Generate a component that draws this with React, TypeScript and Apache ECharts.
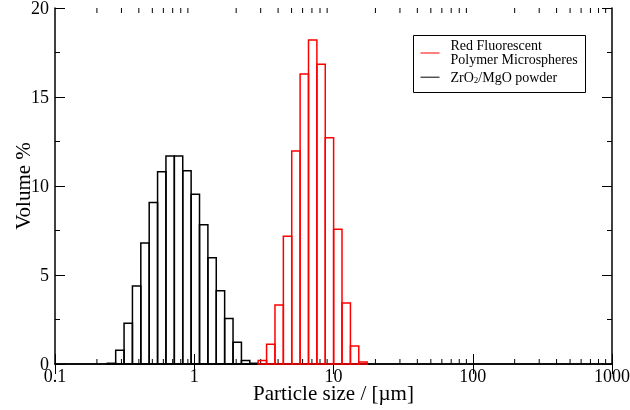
import React, { useEffect, useRef } from "react";
import * as echarts from "echarts";

// Bin edges of the particle-size histogram (µm)
const binEdges = [
  0.2375, 0.2728, 0.3133, 0.3598, 0.4133, 0.4747, 0.5452, 0.6262, 0.7193, 0.8267,
  0.9497, 1.091, 1.253, 1.439, 1.653, 1.899, 2.182, 2.506, 2.879, 3.307, 3.799,
  4.364, 5.012, 5.757, 6.614, 7.598, 8.726, 10.02, 11.51, 13.23, 15.19, 17.45,
];

// ZrO2/MgO powder: volume % per bin, starting at binEdges[0]
const powderFirstBin = 0;
const powderVolume = [
  0.04, 0.77, 2.29, 4.38, 6.8, 9.08, 10.8, 11.69, 11.69, 10.86, 9.53, 7.83, 5.97,
  4.12, 2.55, 1.22, 0.19, 0.04,
];

// Red fluorescent polymer microspheres: volume % per bin, starting at binEdges[18]
const sphereFirstBin = 18;
const sphereVolume = [
  0.2, 1.11, 3.31, 7.17, 11.97, 16.29, 18.2, 16.84, 12.71, 7.57, 3.43, 1.01, 0.11,
];

// Log-axis minor tick values
const minorTickValues = [
  0.2, 0.3, 0.4, 0.5, 0.6, 0.7, 0.8, 0.9,
  2, 3, 4, 5, 6, 7, 8, 9,
  20, 30, 40, 50, 60, 70, 80, 90,
  200, 300, 400, 500, 600, 700, 800, 900,
];

const xTitle = "Particle size / [µm]";
const yTitle = "Volume %";
const sphereName = ["Red Fluorescent", "Polymer Microspheres"];

const FONT = '"Liberation Serif", "Times New Roman", serif';

function histData(first: number, vals: number[]) {
  return vals.map((v, i) => [binEdges[first + i], binEdges[first + i + 1], v]);
}

function histSeries(name: string, color: string, data: number[][]) {
  return {
    type: "custom",
    name,
    xAxisIndex: 0,
    yAxisIndex: 0,
    silent: true,
    encode: { x: [0, 1], y: 2 },
    data,
    renderItem: (params: any, api: any) => {
      const p0 = api.coord([api.value(0), 0]);
      const p1 = api.coord([api.value(1), api.value(2)]);
      return {
        type: "rect",
        shape: { x: p0[0], y: p1[1], width: p1[0] - p0[0], height: p0[1] - p1[1] },
        style: { fill: "none", stroke: color, lineWidth: 1.5 },
      };
    },
  };
}

export default function App() {
  const ref = useRef<HTMLDivElement>(null);
  useEffect(() => {
    if (!ref.current) return;
    const chart = echarts.init(ref.current, null, { renderer: "svg" });
    const fmt = (v: number) => String(parseFloat(Number(v).toPrecision(6)));
    const axisLine = { show: true, lineStyle: { color: "#000", width: 1.5 } };
    const tick = { show: true, inside: true, length: 10, lineStyle: { color: "#000", width: 1 } };
    const minor = { show: true, splitNumber: 2, length: 5, lineStyle: { color: "#000", width: 1 } };
    const label = { fontSize: 18, fontFamily: FONT, color: "#000" };
    const nameStyle = { fontSize: 21, fontFamily: FONT, color: "#000" };
    chart.setOption({
      animation: false,
      grid: { left: 55, right: 18, top: 8, bottom: 46, containLabel: false, outerBoundsMode: "none" },
      xAxis: [
        {
          type: "log", logBase: 10, min: 0.1, max: 1000, position: "bottom",
          axisLine, axisTick: tick, splitLine: { show: false },
          axisLabel: { ...label, margin: 3, formatter: fmt },
          name: xTitle, nameLocation: "middle", nameGap: 18, nameMoveOverlap: false, nameTextStyle: nameStyle,
        },
        {
          type: "log", logBase: 10, min: 0.1, max: 1000, position: "top",
          axisLine, axisTick: tick, splitLine: { show: false },
          axisLabel: { show: false },
        },
      ],
      yAxis: [
        {
          type: "value", min: 0, max: 20, interval: 5, position: "left",
          axisLine, axisTick: tick, minorTick: minor, splitLine: { show: false },
          axisLabel: { ...label, margin: 6 },
          name: yTitle, nameLocation: "middle", nameGap: 22, nameRotate: 90, nameMoveOverlap: false, nameTextStyle: nameStyle,
        },
        {
          type: "value", min: 0, max: 20, interval: 5, position: "right",
          axisLine, axisTick: tick, minorTick: minor, splitLine: { show: false },
          axisLabel: { show: false },
        },
      ],
      series: [
        {
          type: "custom",
          name: "minorTicks",
          silent: true,
          xAxisIndex: 0,
          yAxisIndex: 0,
          encode: { x: 0, y: 1 },
          data: minorTickValues.map((v) => [v, 0]),
          renderItem: (params: any, api: any) => {
            const b = api.coord([api.value(0), 0]);
            const t = api.coord([api.value(0), 20]);
            const st = { stroke: "#000", lineWidth: 1 };
            return {
              type: "group",
              children: [
                { type: "line", shape: { x1: b[0], y1: b[1], x2: b[0], y2: b[1] - 5 }, style: st },
                { type: "line", shape: { x1: t[0], y1: t[1], x2: t[0], y2: t[1] + 5 }, style: st },
              ],
            };
          },
        },
        histSeries("ZrO2/MgO powder", "#000000", histData(powderFirstBin, powderVolume)),
        histSeries(sphereName.join(" "), "#ff0000", histData(sphereFirstBin, sphereVolume)),
      ],
      graphic: [
        {
          type: "group",
          left: 413,
          top: 35,
          children: [
            { type: "rect", shape: { x: 0, y: 0, width: 172, height: 57 }, style: { fill: "#fff", stroke: "#000", lineWidth: 1 } },
            { type: "line", shape: { x1: 7, y1: 17.5, x2: 26, y2: 17.5 }, style: { stroke: "#ff0000", lineWidth: 1 } },
            { type: "text", x: 37, y: 10, style: { text: sphereName[0], fontSize: 14, fontFamily: FONT, fill: "#000", align: "left", verticalAlign: "middle" } },
            { type: "text", x: 37, y: 23.5, style: { text: sphereName[1], fontSize: 14, fontFamily: FONT, fill: "#000", align: "left", verticalAlign: "middle" } },
            { type: "line", shape: { x1: 7, y1: 41.7, x2: 26, y2: 41.7 }, style: { stroke: "#000", lineWidth: 1 } },
            {
              type: "text", x: 37, y: 41.7,
              style: {
                text: "{a|ZrO}{s|2}{a|/MgO powder}",
                fill: "#000", align: "left", verticalAlign: "middle",
                rich: {
                  a: { fontSize: 14, fontFamily: FONT, fill: "#000", lineHeight: 14, verticalAlign: "top" },
                  s: { fontSize: 9, fontFamily: FONT, fill: "#000", lineHeight: 9, padding: [8, 0, 0, 0], verticalAlign: "bottom" },
                },
              },
            },
          ],
        },
      ],
    });
    return () => chart.dispose();
  }, []);
  return <div ref={ref} style={{ position: "fixed", left: 0, top: 0, width: 630, height: 410 }} />;
}
